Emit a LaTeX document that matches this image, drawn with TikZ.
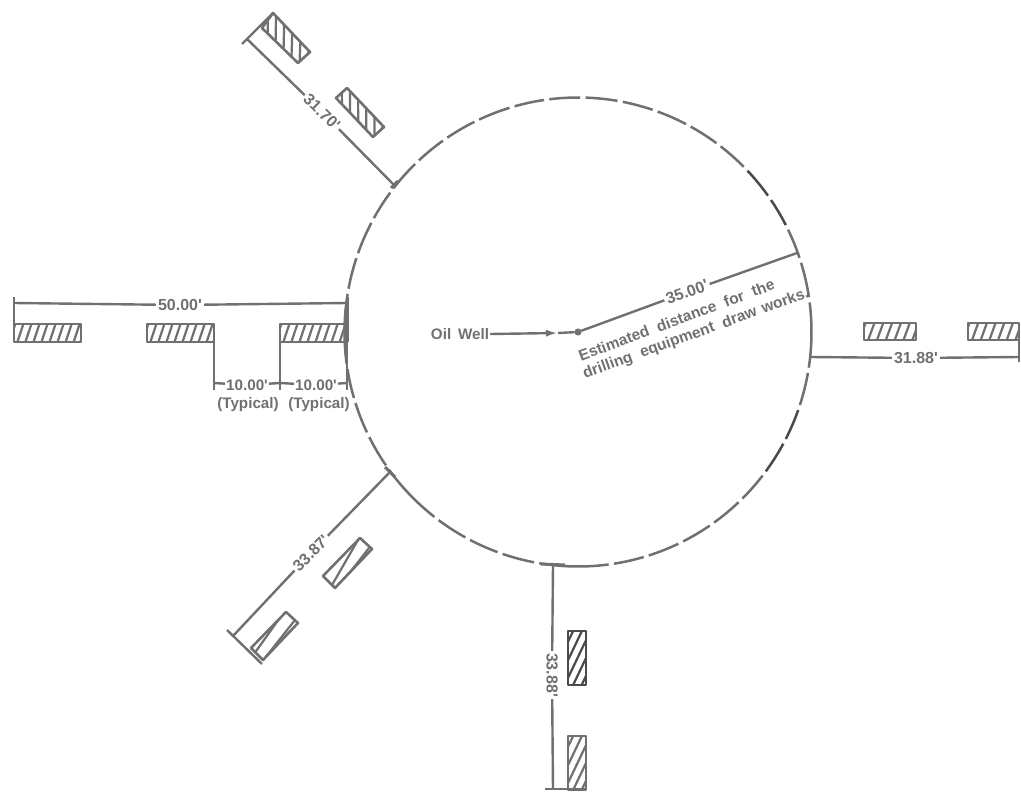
\documentclass[tikz,border=0pt]{standalone}
\usepackage{fontspec}
\setmainfont{Liberation Sans}
\usetikzlibrary{calc,arrows.meta}
\definecolor{ink}{HTML}{707070}
\definecolor{darkink}{HTML}{4A4A4A}
\newcommand{\hrectangle}[7][ink]{%
  \coordinate (hA) at (#2); \coordinate (hB) at (#3);
  \coordinate (hC) at (#4); \coordinate (hD) at (#5);
  \begin{scope}
    \clip (hA) -- (hB) -- (hC) -- (hD) -- cycle;
    \foreach \t in {#7} {
      \draw[hatchline,#1] ($(hA)!\t!(hB)$) -- ($(hD)!\t-#6!(hC)$);
    }
  \end{scope}
  \draw[rectline,#1] (hA) -- (hB) -- (hC) -- (hD) -- cycle;
}
\newcommand{\ft}{\textquotesingle}
\tikzset{
  hatchline/.style={line width=2.2pt},
  rectline/.style={line width=2.6pt,line join=round},
  dimline/.style={line width=2.4pt},
  ringline/.style={line width=2.5pt},
  lbl/.style={font=\fontsize{16}{18}\selectfont\bfseries,text=ink,inner sep=2pt},
  typ/.style={font=\fontsize{15.2}{18}\selectfont\bfseries,text=ink,inner sep=1pt},
  note/.style={font=\fontsize{15.5}{18}\selectfont\bfseries,text=ink,inner sep=0pt},
}
\begin{document}
\begin{tikzpicture}[x=1pt,y=-1pt,draw=ink]
\useasboundingbox (0,0) rectangle (1021,792);

% ring of long dashes
\foreach \a/\b/\c in {
 161/170/ink,151.6/161/ink,142.9/151.6/ink,133.6/142.9/ink,124.7/133.6/ink,115.7/124.7/ink,
 106.4/115.7/ink,97.7/106.4/ink,88.8/97.7/ink,79.6/88.8/ink,70.7/79.6/ink,61.8/70.7/ink,
 53/61.8/ink,44.1/53/ink,34.9/44.1/darkink,26.5/34.9/darkink,17.8/26.5/ink,7.9/17.8/ink,
 -9.4/7.9/ink,-18.8/-9.4/ink,-27.8/-18.8/darkink,-37.1/-27.8/darkink,-45.9/-37.1/ink,
 -55/-45.9/ink,-63.9/-55/ink,-73/-63.9/ink,-81.8/-73/ink,-100.2/-81.8/ink,-109.5/-100.2/ink,
 -118.2/-109.5/ink,-127.3/-118.2/ink,-144.7/-127.3/ink,-154/-144.7/ink,-163/-154/ink,
 -171.5/-163/ink,-190/-171.5/ink} {
  \draw[ringline,draw=\c] plot[domain=\a+0.65:\b-0.65,samples=14,smooth]
    ({578+233.5*cos(\x)},{332-234.5*sin(\x)});
}

% well, label and radius dimension
\node[typ] (oil) at (460,334) {Oil\hspace{0.45em}Well};
\node[circle,draw=ink,fill=ink,line width=1pt,inner sep=0pt,minimum size=6pt] (well) at (578,332) {};
\coordinate (tip) at (558,333);
\draw[dimline,-{Latex[length=12pt,width=7pt]}] (oil.east) -- (tip);
\draw[dimline] (tip) -- (well);
\coordinate (rimR) at (797,253);
\node[lbl,rotate=20] (d35) at (687,292) {35.00\ft};
\draw[dimline] (well) -- (d35);
\draw[dimline] (d35) -- (rimR);
\node[note,rotate=20.5] (est1) at (676.5,320) {Estimated\hspace{0.3em} distance\hspace{0.3em} for\hspace{0.3em} the};
\node[note,rotate=20] (est2) at (696,334) {drilling\hspace{0.3em} equipment\hspace{0.3em} draw\hspace{0.1em} works.};

% west group
\hrectangle{14,324}{81,324}{81,342}{14,342}{.09}{.02,.14,.26,.38,.50,.62,.74,.86,.98,1.08}
\hrectangle{147,324}{214,324}{214,342}{147,342}{.09}{.02,.14,.26,.38,.50,.62,.74,.86,.98,1.08}
\hrectangle{280,324}{347,324}{347,342}{280,342}{.09}{.02,.14,.26,.38,.50,.62,.74,.86,.98,1.08}
\coordinate (wTop1) at (14,297);   \coordinate (wBot1) at (14,342);
\coordinate (wTop2) at (347,297);  \coordinate (wBot2) at (347,342);
\coordinate (wEnd1) at (14,303);   \coordinate (wEnd2) at (347,303);
\draw[dimline] (wTop1) -- (wBot1);
\draw[line width=3pt] (wTop2) -- (wBot2);
\node[lbl] (d50) at (180,305) {50.00\ft};
\draw[dimline] (wEnd1) -- (d50);
\draw[dimline] (d50) -- (wEnd2);
\coordinate (e1a) at (214,342); \coordinate (e1b) at (214,390);
\coordinate (e2a) at (280,342); \coordinate (e2b) at (280,390);
\coordinate (e3a) at (347,342); \coordinate (e3b) at (347,390);
\draw[dimline] (e1a) -- (e1b);
\draw[dimline] (e2a) -- (e2b);
\draw[dimline] (e3a) -- (e3b);
\coordinate (m1) at (214,383); \coordinate (m2) at (280,383); \coordinate (m3) at (347,383);
\node[typ] (d10a) at (247,385) {10.00\ft};
\node[typ] (d10b) at (316,385) {10.00\ft};
\draw[dimline] (m1) -- (d10a);
\draw[dimline] (d10a) -- (m2);
\draw[dimline] (m2) -- (d10b);
\draw[dimline] (d10b) -- (m3);
\node[typ] (typ1) at (248,405) {(Typical)};
\node[typ] (typ2) at (319,405) {(Typical)};

% north-west group
\hrectangle{273,13}{310,52}{298,63}{262,28}{-.3}{-.14,.08,.30,.52,.74,.96,1.18}
\hrectangle{347,88}{384,127}{373,137}{336,98}{-.3}{-.14,.08,.30,.52,.74,.96,1.18}
\coordinate (nwA) at (242,44); \coordinate (nwB) at (273,13);
\draw[dimline] (nwA) -- (nwB);
\coordinate (nwEnd) at (247,39);
\coordinate (nwRim) at (394,185);
\coordinate (nwT1) at (391,188); \coordinate (nwT2) at (398,181);
\draw[line width=3pt] (nwT1) -- (nwT2);
\node[lbl,rotate=-44] (d317) at (322,112) {31.70\ft};
\draw[dimline] (nwEnd) -- (d317);
\draw[dimline] (d317) -- (nwRim);

% south-west group
\coordinate (swA) at (227,630); \coordinate (swB) at (262,664);
\draw[dimline] (swA) -- (swB);
\coordinate (swEnd) at (233,636);
\coordinate (swRim) at (390,472);
\coordinate (swT1) at (385,467); \coordinate (swT2) at (395,477);
\draw[line width=3pt] (swT1) -- (swT2);
\node[lbl,rotate=45] (d33) at (311,553) {33.87\ft};
\draw[dimline] (swEnd) -- (d33);
\draw[dimline] (d33) -- (swRim);
\coordinate (s1a) at (286,612); \coordinate (s1b) at (298,623);
\coordinate (s1c) at (263,660); \coordinate (s1d) at (251,648);
\begin{scope}
  \clip (s1a) -- (s1b) -- (s1c) -- (s1d) -- cycle;
  \draw[hatchline] (254,654) -- (284,612);
  \draw[hatchline] (265,658) -- (295,620);
\end{scope}
\draw[rectline] (s1a) -- (s1b) -- (s1c) -- (s1d) -- cycle;
\coordinate (s2a) at (360,538); \coordinate (s2b) at (372,549);
\coordinate (s2c) at (335,588); \coordinate (s2d) at (323,576);
\begin{scope}
  \clip (s2a) -- (s2b) -- (s2c) -- (s2d) -- cycle;
  \draw[hatchline] (332,585) -- (358,540);
  \draw[hatchline] (344,580) -- (369,548);
\end{scope}
\draw[rectline] (s2a) -- (s2b) -- (s2c) -- (s2d) -- cycle;

% south group
\hrectangle[darkink]{586,685}{586,631}{568,631}{568,685}{.7}{.17,.5,.83,1.16,1.5}
\hrectangle{586,790}{586,736}{568,736}{568,790}{.7}{.17,.5,.83,1.16,1.5}
\coordinate (sA) at (545,789); \coordinate (sB) at (586,789);
\draw[dimline] (sA) -- (sB);
\coordinate (sEnd) at (553,789);
\coordinate (sRim) at (553,565);
\coordinate (sT1) at (541,564); \coordinate (sT2) at (565,565);
\draw[line width=3pt] (sT1) -- (sT2);
\node[lbl,rotate=-90] (d338b) at (552,675) {33.88\ft};
\draw[dimline] (sRim) -- (d338b);
\draw[dimline] (d338b) -- (sEnd);

% east group
\hrectangle{864,323}{916,323}{916,340}{864,340}{.12}{.03,.2,.37,.54,.71,.88,1.05}
\hrectangle{968,323}{1019,323}{1019,340}{968,340}{.12}{.03,.2,.37,.54,.71,.88,1.05}
\coordinate (eA) at (1019,340); \coordinate (eB) at (1019,362);
\draw[dimline] (eA) -- (eB);
\coordinate (eEnd) at (1019,357);
\coordinate (eRim) at (810,357);
\node[lbl] (d318) at (916,358) {31.88\ft};
\draw[dimline] (eRim) -- (d318);
\draw[dimline] (d318) -- (eEnd);
\end{tikzpicture}
\end{document}
